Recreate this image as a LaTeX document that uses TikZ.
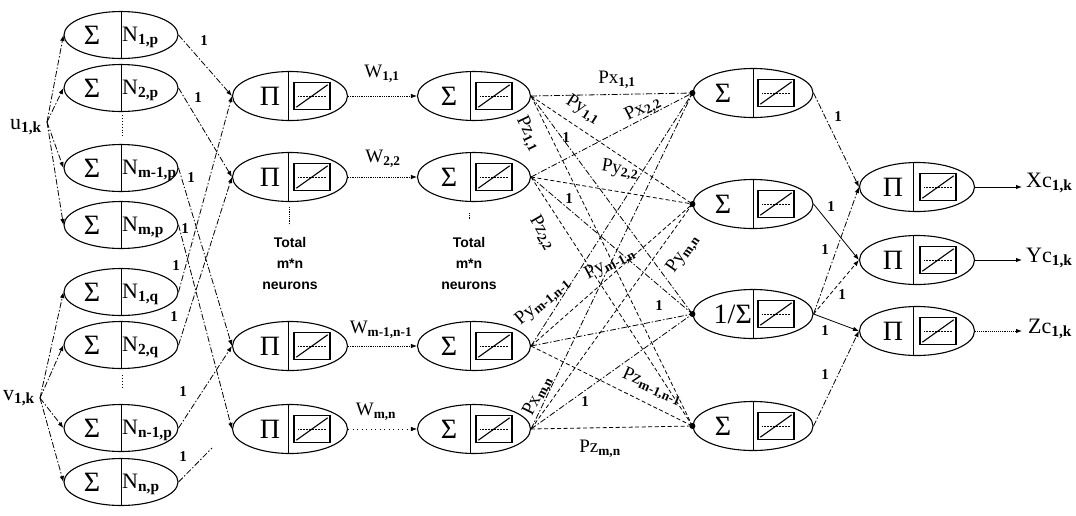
\documentclass[tikz,border=0pt]{standalone}
\usepackage{fontspec}
\setmainfont{Liberation Serif}
\setsansfont{Liberation Sans}
\usetikzlibrary{shapes.geometric,arrows.meta,calc}
\newcommand\sbb[1]{\textsubscript{\bfseries #1}}
\newcommand\boxneuron[8]{%
  \node[neur, minimum width=#4pt] (#1) at (#2,#3) {};
  \draw[divl] ($(#1)+(#7,-24)$) -- ($(#1)+(#7,24)$);
  \node[sym] (#1s) at ($(#1)+(#6,0)$) {#5};
  \node[actbox] (#1b) at ($(#1)+(#8,0)$) {};
  \draw[diagl] ($(#1b.south west)+(3,-3)$) -- ($(#1b.north east)+(-3,3)$);
  \draw[midl] ($(#1b.west)+(5,0)$) -- ($(#1b.east)+(-5,0)$);
}
\begin{document}
\begin{tikzpicture}[x=1pt,y=-1pt,
  neur/.style={ellipse, draw, line width=1.1pt, minimum height=49pt, inner sep=0pt},
  neurA/.style={ellipse, draw, line width=1.1pt, minimum width=114pt, minimum height=47pt, inner sep=0pt},
  divl/.style={line width=0.7pt},
  actbox/.style={draw, line width=1.4pt, minimum width=36pt, minimum height=27pt, inner sep=0pt},
  diagl/.style={line width=1.1pt},
  midl/.style={line width=0.5pt, densely dotted},
  sym/.style={font=\fontsize{28}{28}\selectfont, inner sep=0pt},
  labA/.style={font=\fontsize{22}{22}\selectfont, inner sep=0pt, anchor=west},
  one/.style={font=\bfseries\fontsize{15}{15}\selectfont, inner sep=0.5pt},
  wlab/.style={font=\fontsize{19}{19}\selectfont, inner sep=1pt},
  plab/.style={font=\fontsize{19}{19}\selectfont, inner sep=0pt},
  outlab/.style={font=\fontsize{22}{22}\selectfont, anchor=west, inner sep=0pt},
  inlab/.style={font=\fontsize{22}{22}\selectfont, anchor=east, inner sep=0pt},
  tot/.style={font=\sffamily\bfseries\fontsize{14}{21}\selectfont, align=center},
  conn/.style={line width=0.8pt, dash pattern=on 6pt off 2pt on 1.5pt off 2pt},
  conn2/.style={line width=0.8pt, dash pattern=on 4pt off 2.5pt},
  tip/.style={-{Latex[length=6pt,width=4.5pt]}}
]
\useasboundingbox (0,0) rectangle (1076,515);

% ---------- layer 1 : membership neurons ----------
\foreach \n/\y/\lab in {a1/35/{N\sbb{1,p}}, a2/88/{N\sbb{2,p}}, a3/168/{N\sbb{m-1,p}}, a4/225/{N\sbb{m,p}},
                        a5/292/{N\sbb{1,q}}, a6/345/{N\sbb{2,q}}, a7/428/{N\sbb{n-1,p}}, a8/482/{N\sbb{n,p}}}{
  \node[neurA] (\n) at (121,\y) {};
  \draw[divl] (\n.north) -- (\n.south);
  \node[sym] (\n s) at ($(\n)+(-29,0)$) {Σ};
  \node[labA] (\n l) at ($(\n)+(1,2)$) {\lab};
}
\draw[line width=0.9pt, dotted] (122,115) -- (122,136);
\draw[line width=0.9pt, dotted] (122,375) -- (122,388);

% inputs
\coordinate (u) at (47,122);
\coordinate (v) at (40,398);
\node[inlab] (ulab) at (42,127) {u\sbb{1,k}};
\node[inlab] (vlab) at (35,398) {v\sbb{1,k}};
\foreach \n in {a1,a2,a3,a4}{\draw[conn, tip] (u) -- (\n.west);}
\foreach \n in {a5,a6,a7,a8}{\draw[conn, tip] (v) -- (\n.west);}

% ---------- layer 2 : product neurons ----------
\boxneuron{b1}{290}{96}{115}{Π}{-20}{-2}{22}
\boxneuron{b2}{290}{177}{115}{Π}{-20}{-2}{22}
\boxneuron{b3}{290}{346}{115}{Π}{-20}{-2}{22}
\boxneuron{b4}{290}{429}{115}{Π}{-20}{-2}{22}

% layer 1 -> layer 2
\draw[conn, tip] (a1.east) -- (b1.west);
\draw[conn, tip] (a5.east) -- (b1.west);
\draw[conn, tip] (a2.east) -- (b2.west);
\draw[conn, tip] (a6.east) -- (b2.west);
\draw[conn, tip] (a3.east) -- (b3.west);
\draw[conn, tip] (a7.east) -- (b3.west);
\draw[conn, tip] (a4.east) -- (b4.west);
\coordinate (a8end) at (212,448);
\draw[conn] (a8.east) -- (a8end);
\foreach \p in {(204,41),(198,98),(191,178),(185,229),(176,266),(174,317),(183,392),(183,457)}{
  \node[one] at \p {1};
}

% ---------- layer 3 ----------
\boxneuron{c1}{474}{96}{113}{Σ}{-25}{-4}{20}
\boxneuron{c2}{474}{177}{113}{Σ}{-25}{-4}{20}
\boxneuron{c3}{474}{346}{113}{Σ}{-25}{-4}{20}
\boxneuron{c4}{474}{429}{113}{Σ}{-25}{-4}{20}

\draw[line width=0.8pt, densely dotted, tip] (b1.east) -- (c1.west);
\draw[line width=0.8pt, densely dotted, tip] (b2.east) -- (c2.west);
\draw[line width=0.8pt, densely dotted, tip] (b3.east) -- (c3.west);
\draw[line width=0.5pt, loosely dotted, tip] (b4.east) -- (c4.west);
\node[wlab] at (382,74) {W\sbb{1,1}};
\node[wlab] at (383,159) {W\sbb{2,2}};
\node[wlab] at (381,330) {W\sbb{m-1,n-1}};
\node[wlab] at (376,412) {W\sbb{m,n}};

\draw[line width=0.8pt, densely dotted] (289,207) -- (289,225);
\draw[line width=0.8pt, densely dotted] (469,213) -- (469,220);
\node[tot] at (290,263) {Total\\m*n\\neurons};
\node[tot] at (469,263) {Total\\m*n\\neurons};

% ---------- layer 4 ----------
\boxneuron{d1}{753}{93}{120}{Σ}{-30}{0}{23}
\boxneuron{d2}{753}{204}{120}{Σ}{-30}{0}{23}
\node[neur, minimum width=120pt] (d3) at (753,314) {};
\draw[divl] ($(d3)+(0,-24)$) -- ($(d3)+(0,24)$);
\node[sym, anchor=east] (d3s) at ($(d3)+(-1,0)$) {1/Σ};
\node[actbox] (d3b) at ($(d3)+(23,0)$) {};
\draw[diagl] ($(d3b.south west)+(3,-3)$) -- ($(d3b.north east)+(-3,3)$);
\draw[midl] ($(d3b.west)+(5,0)$) -- ($(d3b.east)+(-5,0)$);
\boxneuron{d4}{753}{426}{120}{Σ}{-30}{0}{23}

% layer 3 -> layer 4 mesh
\foreach \s in {c1,c2,c3,c4}{
  \draw[conn] (\s.east) -- (d1.west);
  \draw[conn2] (\s.east) -- (d2.west);
  \draw[conn] (\s.east) -- (d3.west);
  \draw[conn2] (\s.east) -- (d4.west);
}
\foreach \n in {d1,d2,d3,d4}{\fill (\n.west) circle (3pt);}

\node[plab] at (617,80) {Px\sbb{1,1}};
\node[plab, rotate=-32] at (583,110) {Py\sbb{1,1}};
\node[plab, rotate=27] at (643,109) {Px\sbb{2,2}};
\node[plab, rotate=-64] at (528,134) {Pz\sbb{1,1}};
\node[one] at (566,138) {1};
\node[plab, rotate=-9] at (620,170) {Py\sbb{2,2}};
\node[one] at (569,199) {1};
\node[plab, rotate=-60] at (542,233) {Pz\sbb{2,2}};
\node[plab, rotate=55] at (683,254) {Py\sbb{m,n}};
\node[plab, rotate=40] at (543,302) {Py\sbb{m-1,n-1}};
\node[plab, rotate=28] at (610,264) {Py\sbb{m-1,n}};
\node[one] at (659,306) {1};
\node[plab, rotate=-24] at (652,387) {Pz\sbb{m-1,n-1}};
\node[plab, rotate=63] at (538,396) {Px\sbb{m,n}};
\node[one] at (585,402) {1};
\node[plab] at (600,449) {Pz\sbb{m,n}};

% ---------- layer 5 ----------
\boxneuron{e1}{917}{187}{115}{Π}{-24}{-4}{21}
\boxneuron{e2}{917}{260}{115}{Π}{-24}{-4}{21}
\boxneuron{e3}{917}{331}{115}{Π}{-24}{-4}{21}

\draw[conn, tip] (d1.east) -- (e1.west);
\draw[line width=0.8pt, tip] (d2.east) -- (e2.west);
\draw[conn, tip] (d3.east) -- (e1.west);
\draw[conn2, tip] (d3.east) -- (e2.west);
\draw[line width=0.8pt, tip] (d3.east) -- (e3.west);
\draw[conn, tip] (d4.east) -- (e3.west);
\foreach \p in {(838,117),(831,207),(825,250),(842,295),(825,331),(825,375)}{
  \node[one] at \p {1};
}

% outputs
\coordinate (xo) at (1022,187);
\coordinate (yo) at (1022,260);
\coordinate (zo) at (1022,331);
\draw[line width=0.9pt, tip] (e1.east) -- (xo);
\draw[line width=0.9pt, tip] (e2.east) -- (yo);
\draw[line width=0.9pt, densely dotted, tip] (e3.east) -- (zo);
\node[outlab] at (1026,183) {Xc\sbb{1,k}};
\node[outlab] at (1026,258) {Yc\sbb{1,k}};
\node[outlab] at (1028,329) {Zc\sbb{1,k}};
\end{tikzpicture}
\end{document}
